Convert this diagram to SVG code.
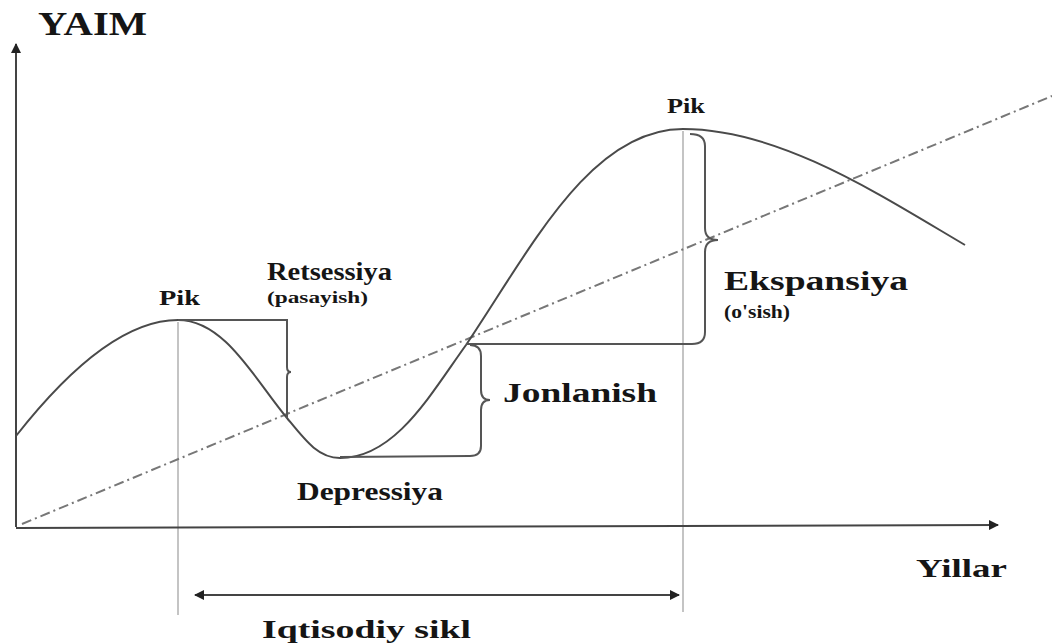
<svg xmlns="http://www.w3.org/2000/svg" width="1052" height="644" viewBox="0 0 1052 644">
<defs>
<marker id="ah" viewBox="0 0 10 10" refX="9" refY="5" markerWidth="10" markerHeight="10" markerUnits="userSpaceOnUse" orient="auto-start-reverse">
<path d="M0,0 L10,5 L0,10 z" fill="#222"/>
</marker>
<style>
.t{font-family:"Liberation Serif","Times New Roman",serif;font-weight:bold;fill:#151515}
.curve{fill:none;stroke:#4a4a4a;stroke-width:2}
.br{fill:none;stroke:#555;stroke-width:2}
.guide{stroke:#c4c4c4;stroke-width:2}
.trend{stroke:#777;stroke-width:2;stroke-dasharray:10 4 2 4;fill:none}
.axis{stroke:#444;stroke-width:2;fill:none}
</style>
</defs>
<rect width="1052" height="644" fill="#fff"/>
<g id="guides">
<line class="guide" x1="178" y1="322" x2="178" y2="615"/>
<line class="guide" x1="683" y1="131" x2="683" y2="612"/>
</g>
<g id="axes">
<path class="axis" d="M16,527 L16,44" marker-end="url(#ah)"/>
<path class="axis" d="M16,528 L998,525" marker-end="url(#ah)"/>
</g>
<g id="trend">
<line class="trend" x1="22" y1="524" x2="1052" y2="96"/>
</g>
<g id="curve">
<path class="curve" d="M16,436 C60,380 120,320 178,320 C225,320 255,380 287,418 C305,440 318,458 340,458 C395,458 430,395 466,345 C530,250 590,129 683,129 C780,129 880,195 965,245"/>
</g>
<g id="connectors">
<path class="br" d="M178,320 L287,320 L287,367 Q287,372 291,372 Q287,372 287,377 L287,418"/>
<path class="br" d="M340,457 L470,456 Q481,456 481,446 L481,410 Q481,400 490,400 Q481,400 481,390 L481,356 Q481,345 470,345"/>
<path class="br" d="M466,344 L692,344 Q705,344 705,332 L705,252 Q705,240 718,240 Q705,240 705,228 L705,146 Q705,134 690,134"/>
<path class="axis" d="M195,595 L679,595" marker-start="url(#ah)" marker-end="url(#ah)"/>
</g>
<g id="labels">
<text class="t" x="38" y="35" font-size="33" textLength="109" lengthAdjust="spacingAndGlyphs">YAIM</text>
<text class="t" x="159" y="305" font-size="20" textLength="41" lengthAdjust="spacingAndGlyphs">Pik</text>
<text class="t" x="667" y="113" font-size="20" textLength="38" lengthAdjust="spacingAndGlyphs">Pik</text>
<text class="t" x="267" y="280" font-size="25" textLength="125" lengthAdjust="spacingAndGlyphs">Retsessiya</text>
<text class="t" x="267" y="303" font-size="16" textLength="101" lengthAdjust="spacingAndGlyphs">(pasayish)</text>
<text class="t" x="503" y="402" font-size="27" textLength="154" lengthAdjust="spacingAndGlyphs">Jonlanish</text>
<text class="t" x="724" y="290" font-size="27" textLength="184" lengthAdjust="spacingAndGlyphs">Ekspansiya</text>
<text class="t" x="724" y="318" font-size="19" textLength="66" lengthAdjust="spacingAndGlyphs">(o'sish)</text>
<text class="t" x="297" y="500" font-size="26" textLength="146" lengthAdjust="spacingAndGlyphs">Depressiya</text>
<text class="t" x="916" y="577" font-size="26" textLength="91" lengthAdjust="spacingAndGlyphs">Yillar</text>
<text class="t" x="262" y="638" font-size="26" textLength="209" lengthAdjust="spacingAndGlyphs">Iqtisodiy sikl</text>
</g>
</svg>
